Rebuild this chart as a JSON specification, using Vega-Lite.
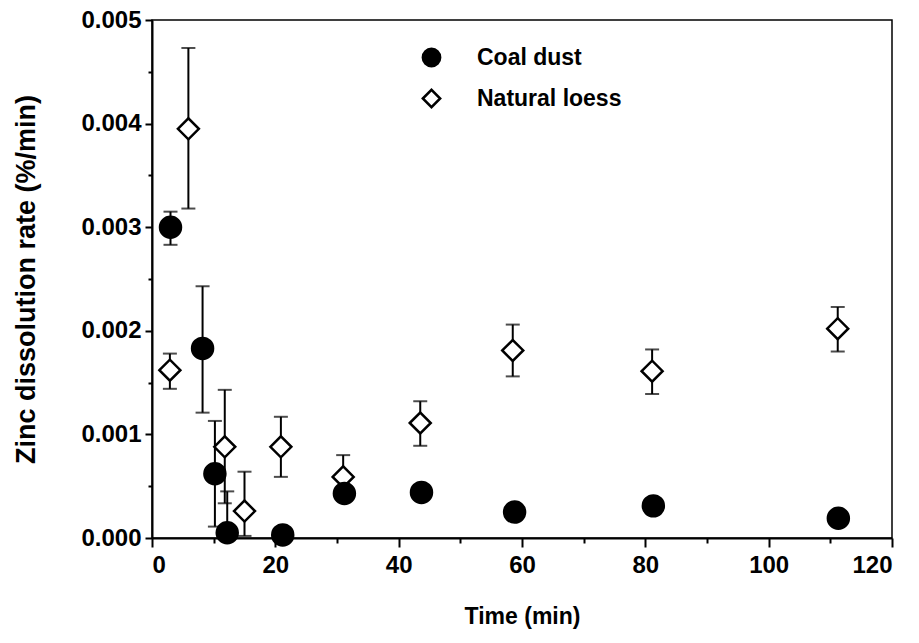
{
  "$schema": "https://vega.github.io/schema/vega-lite/v6.json",
  "width": 740,
  "height": 518,
  "autosize": {"type": "none"},
  "padding": {"left": 152, "top": 20, "right": 27, "bottom": 105},
  "background": "white",
  "config": {
    "view": {"stroke": "black", "strokeWidth": 1.5},
    "font": "Liberation Sans",
    "axis": {
      "domainColor": "black", "domainWidth": 2,
      "tickColor": "black", "tickWidth": 2,
      "labelFont": "Liberation Sans", "labelFontSize": 24, "labelFontWeight": "bold", "labelColor": "black",
      "titleFont": "Liberation Sans", "titleFontSize": 23, "titleFontWeight": "bold", "titleColor": "black",
      "grid": false
    },
    "legend": {
      "orient": "none", "legendX": 268, "legendY": 26, "padding": 0,
      "labelFont": "Liberation Sans", "labelFontSize": 23, "labelFontWeight": "bold", "labelColor": "black",
      "symbolSize": 300, "symbolStrokeWidth": 2.5,
      "rowPadding": 12, "labelOffset": 34
    }
  },
  "data": {
    "values": [
      {"series": "Natural loess", "time": 2.9, "rate": 0.00162, "lo": 0.00144, "hi": 0.00178},
      {"series": "Natural loess", "time": 5.9, "rate": 0.00395, "lo": 0.00318, "hi": 0.00473},
      {"series": "Natural loess", "time": 11.8, "rate": 0.00088, "lo": 0.000335, "hi": 0.00143},
      {"series": "Natural loess", "time": 15.0, "rate": 0.00026, "lo": 0.00002, "hi": 0.00064},
      {"series": "Natural loess", "time": 20.9, "rate": 0.00088, "lo": 0.00059, "hi": 0.00117},
      {"series": "Natural loess", "time": 31.0, "rate": 0.00059, "lo": 0.00039, "hi": 0.0008},
      {"series": "Natural loess", "time": 43.5, "rate": 0.00111, "lo": 0.00089, "hi": 0.00132},
      {"series": "Natural loess", "time": 58.5, "rate": 0.00181, "lo": 0.00156, "hi": 0.00206},
      {"series": "Natural loess", "time": 81.1, "rate": 0.00161, "lo": 0.00139, "hi": 0.00182},
      {"series": "Natural loess", "time": 111.2, "rate": 0.00202, "lo": 0.0018, "hi": 0.00223},
      {"series": "Coal dust", "time": 3.0, "rate": 0.003, "lo": 0.00283, "hi": 0.00315},
      {"series": "Coal dust", "time": 8.2, "rate": 0.00183, "lo": 0.00121, "hi": 0.00243},
      {"series": "Coal dust", "time": 10.2, "rate": 0.00062, "lo": 0.00011, "hi": 0.00113},
      {"series": "Coal dust", "time": 12.2, "rate": 0.00005, "lo": -0.00035, "hi": 0.00045},
      {"series": "Coal dust", "time": 21.2, "rate": 0.00003, "lo": 0.00003, "hi": 0.00003},
      {"series": "Coal dust", "time": 31.2, "rate": 0.00043, "lo": 0.00043, "hi": 0.00043},
      {"series": "Coal dust", "time": 43.7, "rate": 0.00044, "lo": 0.00044, "hi": 0.00044},
      {"series": "Coal dust", "time": 58.8, "rate": 0.00025, "lo": 0.00025, "hi": 0.00025},
      {"series": "Coal dust", "time": 81.3, "rate": 0.00031, "lo": 0.00031, "hi": 0.00031},
      {"series": "Coal dust", "time": 111.3, "rate": 0.00019, "lo": 0.00019, "hi": 0.00019}
    ]
  },
  "layer": [
    {
      "mark": {"type": "rule", "color": "black", "strokeWidth": 2, "clip": true},
      "encoding": {
        "x": {"field": "time", "type": "quantitative",
              "scale": {"domain": [0, 120], "nice": false},
              "axis": {"orient": "bottom", "values": [0, 20, 40, 60, 80, 100, 120], "tickSize": 9, "labelPadding": 6, "title": "Time (min)", "titlePadding": 28}},
        "y": {"field": "lo", "type": "quantitative",
              "scale": {"domain": [0, 0.005], "nice": false},
              "axis": {"orient": "left", "values": [0, 0.001, 0.002, 0.003, 0.004, 0.005], "format": ".3f", "tickSize": 7, "labelPadding": 4, "title": "Zinc dissolution rate (%/min)", "titleFontSize": 27, "titlePadding": 40}},
        "y2": {"field": "hi"}
      }
    },
    {
      "mark": {"type": "tick", "orient": "horizontal", "color": "black", "size": 14, "thickness": 2, "clip": true},
      "encoding": {
        "x": {"field": "time", "type": "quantitative",
              "axis": {"orient": "bottom", "values": [10, 30, 50, 70, 90, 110], "tickSize": 5, "labels": false, "domain": false, "title": null}},
        "y": {"field": "hi", "type": "quantitative",
              "axis": {"orient": "left", "values": [0.0005, 0.0015, 0.0025, 0.0035, 0.0045], "tickSize": 4, "labels": false, "domain": false, "title": null}}
      }
    },
    {
      "mark": {"type": "tick", "orient": "horizontal", "color": "black", "size": 14, "thickness": 2, "clip": true},
      "encoding": {
        "x": {"field": "time", "type": "quantitative", "axis": null},
        "y": {"field": "lo", "type": "quantitative", "axis": null}
      }
    },
    {
      "mark": {"type": "point", "filled": true, "strokeWidth": 2.5, "opacity": 1, "size": 440},
      "encoding": {
        "x": {"field": "time", "type": "quantitative", "axis": null},
        "y": {"field": "rate", "type": "quantitative", "axis": null},
        "shape": {"field": "series", "type": "nominal",
                  "scale": {"domain": ["Coal dust", "Natural loess"], "range": ["circle", "diamond"]},
                  "legend": {"title": null}},
        "fill": {"field": "series", "type": "nominal",
                 "scale": {"domain": ["Coal dust", "Natural loess"], "range": ["black", "white"]},
                 "legend": {"title": null}},
        "stroke": {"field": "series", "type": "nominal",
                 "scale": {"domain": ["Coal dust", "Natural loess"], "range": ["black", "black"]},
                 "legend": {"title": null}}
      }
    }
  ],
  "resolve": {"axis": {"x": "independent", "y": "independent"}}
}
